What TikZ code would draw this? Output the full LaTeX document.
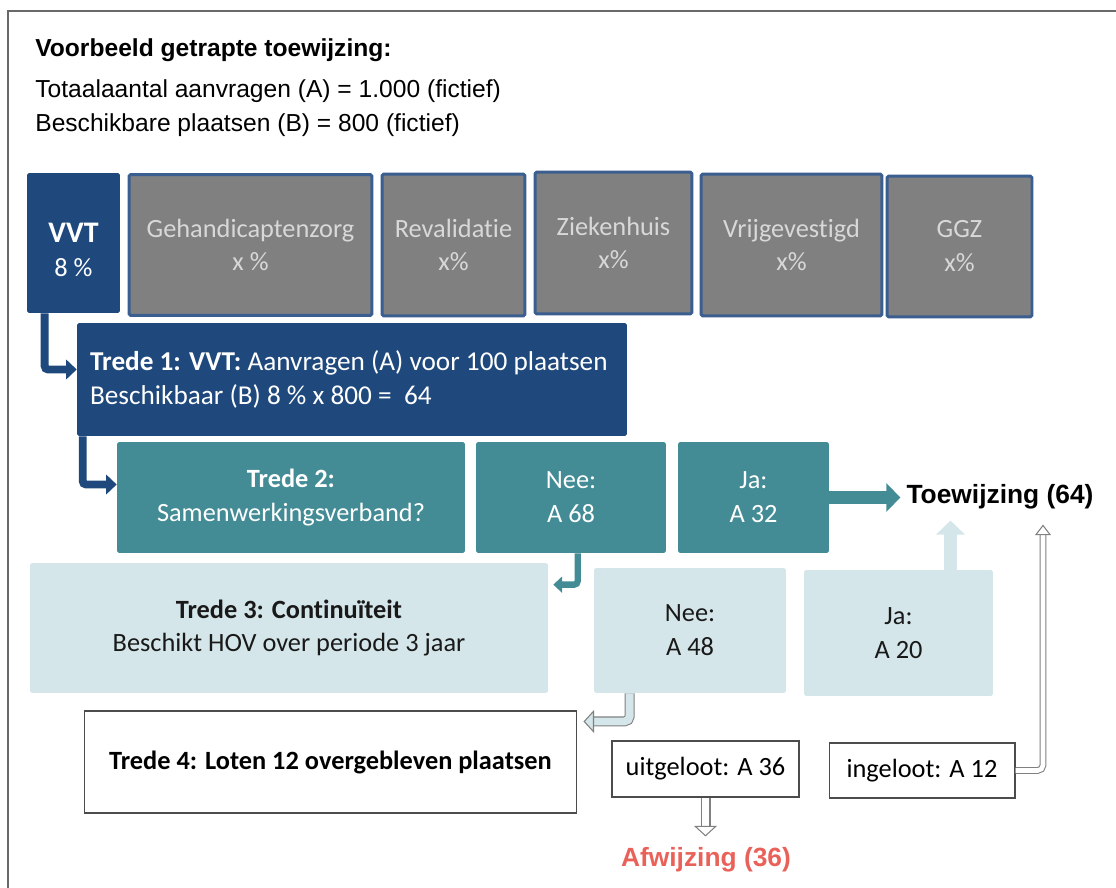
\documentclass[tikz,border=0pt]{standalone}
\usepackage{fontspec}
\setmainfont[Ligatures=NoCommon]{Carlito}
\newfontfamily\arialfont{Liberation Sans}
\usepackage{tikz}
\usetikzlibrary{calc}
\usetikzlibrary{arrows.meta}
\usetikzlibrary{positioning}

\definecolor{vvtblue}{RGB}{31,73,125}
\definecolor{gborder}{RGB}{59,94,144}
\definecolor{gfill}{RGB}{128,128,128}
\definecolor{gtext}{RGB}{216,216,216}
\definecolor{tealc}{RGB}{67,140,150}
\definecolor{lteal}{RGB}{212,230,233}
\definecolor{afwred}{RGB}{233,98,90}
\definecolor{framegray}{RGB}{105,105,105}

\begin{document}
\begin{tikzpicture}[
  x=0.02cm, y=-0.02cm,
  every node/.style={font=\fontsize{15}{19.3}\selectfont},
  gbox/.style={draw=gborder,line width=1.7pt,fill=gfill,text=gtext,align=center,rounded corners=1pt},
  bluebox/.style={fill=vvtblue,text=white,rounded corners=1pt},
  tealbox/.style={fill=tealc,text=white,align=center,rounded corners=1pt},
  ltbox/.style={fill=lteal,text=black!90,align=center,rounded corners=1pt},
  whitebox/.style={draw=black!70,line width=0.6pt,fill=white,align=center},
  headtxt/.style={anchor=west,inner sep=0pt,font=\arialfont\fontsize{14}{17}\selectfont},
  blkarrow/.style={draw=vvtblue,line width=4.5pt,rounded corners=2pt,-{Triangle[length=6pt,width=11pt]}},
  tlarrow/.style={draw=tealc,line width=3.6pt,rounded corners=2pt,-{Triangle[length=5pt,width=9pt]}},
  bigarrow/.style={line width=7.5pt,-{Triangle[length=8pt,width=16pt]}},
  hollow/.style={draw=gray,line width=0.6pt,double=#1,double distance=4.5pt,rounded corners=3pt,
    -{Triangle[open,length=6pt,width=13pt,line width=0.6pt,fill=#1]}},
  thinhollow/.style={draw=gray,line width=0.6pt,double=white,double distance=2.6pt,rounded corners=3pt,
    -{Triangle[open,length=6pt,width=9pt,line width=0.6pt,fill=white]}}
]
  \useasboundingbox (0,0) rectangle (1116,888);

  % frame
  \draw[framegray,line width=1.1pt] (8,888) -- (8,11) -- (1116,11);

  % header
  \node[headtxt] (hdtitle) at (35,50) {\bfseries Voorbeeld getrapte toewijzing:};
  \node[headtxt] (hdtot)   at (35,91) {Totaalaantal aanvragen (A) = 1.000 (fictief)};
  \node[headtxt] (hdbes)   at (35,125) {Beschikbare plaatsen (B) = 800 (fictief)};

  % sectors
  \node[bluebox,align=center,minimum width=1.86cm,minimum height=2.8cm] (vvt) at (73.5,243)
    {\rule{0pt}{19pt}{\fontsize{17}{20}\selectfont\bfseries VVT}\\8 \%};
  \node[gbox,minimum width=4.86cm,minimum height=2.82cm] (geh)   at (250.5,245) {Gehandicaptenzorg\\x \%};
  \node[gbox,minimum width=2.86cm,minimum height=2.84cm] (reval) at (453.5,245) {Revalidatie\\x\%};
  \node[gbox,minimum width=3.14cm,minimum height=2.84cm] (zkh)   at (613.5,243) {Ziekenhuis\\x\%};
  \node[gbox,minimum width=3.62cm,minimum height=2.84cm] (vrij)  at (791.5,245) {Vrijgevestigd\\x\%};
  \node[gbox,minimum width=2.9cm,minimum height=2.82cm]  (ggz)   at (959.5,246.5) {GGZ\\x\%};

  % trede 1 en 2
  \node[bluebox,minimum width=11cm,minimum height=2.26cm,text width=10.48cm,inner xsep=0.26cm,align=flush left] (tr1) at (352,379.5)
    {\fontsize{15.5}{19.3}\selectfont\textbf{Trede 1: VVT:} Aanvragen (A) voor 100 plaatsen\\Beschikbaar (B) 8 \% x 800 = \ 64};
  \node[tealbox,minimum width=6.96cm,minimum height=2.22cm] (tr2)  at (291,497.5) {\textbf{Trede 2:}\\Samenwerkingsverband?};
  \node[tealbox,minimum width=3.8cm,minimum height=2.22cm]  (nee1) at (571,497.5) {Nee:\\A 68};
  \node[tealbox,minimum width=3.02cm,minimum height=2.22cm] (ja1)  at (753.5,497.5) {Ja:\\A 32};
  \node[font=\arialfont\bfseries\fontsize{15}{18}\selectfont] (toew) at (1000,497) {Toewijzing (64)};

  % trede 3
  \node[ltbox,minimum width=10.36cm,minimum height=2.6cm] (tr3)  at (289,628) {\textbf{Trede 3: Continuïteit}\\Beschikt HOV over periode 3 jaar};
  \node[ltbox,minimum width=3.84cm,minimum height=2.5cm]  (nee2) at (690,630.5) {Nee:\\A 48};
  \node[ltbox,minimum width=3.78cm,minimum height=2.52cm] (ja2)  at (898.5,633) {Ja:\\A 20};

  % trede 4
  \node[whitebox,minimum width=9.86cm,minimum height=2.04cm] (tr4) at (330.5,762) {\textbf{Trede 4: Loten 12 overgebleven plaatsen}};
  \node[whitebox,minimum width=3.74cm,minimum height=1.12cm] (uit) at (705.5,769) {uitgeloot: A 36};
  \node[whitebox,minimum width=3.72cm,minimum height=1.1cm]  (inl) at (922,770.5) {ingeloot: A 12};
  \node[font=\arialfont\bfseries\fontsize{15}{18}\selectfont,text=afwred] (afw) at (706,860) {Afwijzing (36)};

  % pijlen
  \draw[blkarrow] ($(vvt.south west)+(18,0)$) |- ($(tr1.west)+(0,-10)$);
  \draw[blkarrow] ($(tr1.south west)+(6,0)$) |- ($(tr2.west)+(0,-13)$);
  \draw[tlarrow] ($(nee1.south west)+(102,0)$) |- ($(tr3.north east)+(5,22)$);
  \draw[hollow=lteal] ($(nee2.south west)+(36,0)$) |- ($(tr4.north east)+(6,11)$);
  \draw[bigarrow,draw=tealc] (ja1.east) -- (ja1.east -| toew.west);
  \coordinate (jaup) at ($(ja2.north)+(52,0)$);
  \draw[bigarrow,draw=lteal,shorten >=0.1cm] (jaup) -- (jaup |- toew.south);
  \draw[hollow=white,shorten >=0.1cm] (uit.south) -- (uit.south |- afw.north);
  \draw[thinhollow] (inl.east) -| ($(toew.south)+(43,9)$);
\end{tikzpicture}
\end{document}
